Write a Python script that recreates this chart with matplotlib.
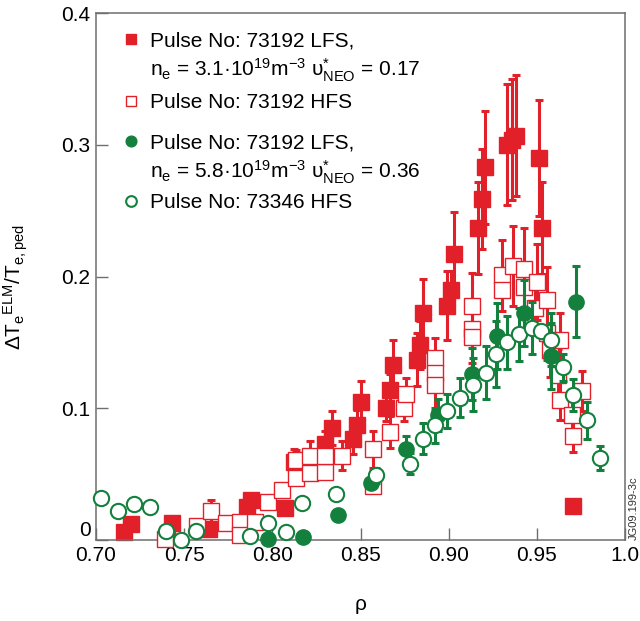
import numpy as np
import matplotlib.pyplot as plt
from matplotlib.lines import Line2D
from matplotlib.legend import Legend

plt.rcParams['font.family'] = ['Liberation Sans', 'DejaVu Sans']
plt.rcParams['mathtext.default'] = 'regular'

red = '#e2202a'
green = '#13803d'
grey = '#6e6e6e'

# Pulse 73192 LFS, low density (filled red squares)
lfs_lo_rho = [0.716, 0.720, 0.740, 0.743, 0.764, 0.7855, 0.788, 0.807, 0.812, 0.830,
              0.834, 0.846, 0.848, 0.850, 0.8644, 0.8667, 0.8686, 0.8818, 0.8837, 0.8856,
              0.8989, 0.9013, 0.903, 0.9168, 0.9187, 0.9206, 0.9333, 0.9357, 0.9382, 0.9513,
              0.9532, 0.9704]
lfs_lo_dte = [0.006, 0.012, 0.003, 0.013, 0.008, 0.025, 0.030, 0.024, 0.059, 0.073,
              0.085, 0.077, 0.087, 0.105, 0.100, 0.114, 0.133, 0.137, 0.148, 0.172,
              0.178, 0.190, 0.217, 0.237, 0.259, 0.283, 0.300, 0.304, 0.307, 0.290,
              0.237, 0.026]
lfs_lo_err = [0, 0, 0, 0, 0, 0, 0, 0, 0.010, 0.010,
              0.013, 0.012, 0.012, 0.016, 0.010, 0.012, 0.019, 0.020, 0.018, 0.026,
              0.026, 0.014, 0.032, 0.035, 0.038, 0.043, 0.046, 0.046, 0.046, 0.044,
              0.035, 0]

# Pulse 73192 HFS (open red squares)
hfs_rho = [0.7391, 0.7571, 0.7652, 0.7735, 0.7817, 0.7817, 0.7902, 0.7977, 0.8053, 0.8134,
           0.8134, 0.8213, 0.8213, 0.8299, 0.8299, 0.8393, 0.8572, 0.8572, 0.8667, 0.8749,
           0.8758, 0.8922, 0.8922, 0.8922, 0.9135, 0.9135, 0.9135, 0.930, 0.930, 0.9362,
           0.9429, 0.9429, 0.9499, 0.949, 0.9556, 0.9557, 0.9574, 0.9631, 0.962, 0.9631,
           0.9697, 0.9754, 0.9704]
hfs_dte = [0.001, 0.011, 0.022, 0.013, 0.014, 0.004, 0.014, 0.029, 0.038, 0.061,
           0.047, 0.064, 0.051, 0.052, 0.064, 0.064, 0.069, 0.041, 0.082, 0.100,
           0.111, 0.138, 0.127, 0.118, 0.178, 0.160, 0.154, 0.201, 0.190, 0.208,
           0.206, 0.192, 0.196, 0.176, 0.182, 0.157, 0.144, 0.152, 0.125, 0.106,
           0.095, 0.113, 0.079]
hfs_err = [0, 0, 0.008, 0, 0, 0, 0, 0, 0, 0.007,
           0, 0.011, 0, 0, 0, 0.011, 0.014, 0, 0.012, 0.010,
           0.012, 0.015, 0, 0.020, 0.025, 0, 0.020, 0.027, 0, 0.030,
           0.031, 0, 0.029, 0.020, 0.025, 0.020, 0.020, 0.020, 0.020, 0.015,
           0.015, 0.015, 0.012]

# Pulse 73192 LFS, high density (filled green circles)
lfs_hi_rho = [0.7977, 0.8176, 0.837, 0.856, 0.8758, 0.8941, 0.913, 0.9272, 0.9429, 0.9578, 0.9722]
lfs_hi_dte = [0.0005, 0.002, 0.019, 0.043, 0.069, 0.095, 0.126, 0.155, 0.172, 0.140, 0.181]
lfs_hi_err = [0, 0, 0, 0, 0.010, 0.012, 0.020, 0.025, 0.025, 0.025, 0.027]

# Pulse 73346 HFS (open green circles)
hfs2_rho = [0.703, 0.7127, 0.7217, 0.7306, 0.7395, 0.7482, 0.7565, 0.7873, 0.7977, 0.8075,
            0.817, 0.836, 0.859, 0.878, 0.8852, 0.8922, 0.8991, 0.9063, 0.9139, 0.9214,
            0.9267, 0.9331, 0.940, 0.947, 0.9521, 0.9578, 0.965, 0.9707, 0.9783, 0.9859]
hfs2_dte = [0.032, 0.022, 0.027, 0.025, 0.007, 0.000, 0.007, 0.003, 0.013, 0.006,
            0.028, 0.035, 0.049, 0.058, 0.077, 0.087, 0.098, 0.108, 0.118, 0.127,
            0.141, 0.150, 0.156, 0.161, 0.159, 0.152, 0.131, 0.110, 0.091, 0.062]
hfs2_err = [0, 0, 0, 0, 0, 0, 0, 0, 0, 0,
            0, 0, 0.006, 0.008, 0.012, 0.013, 0.013, 0.015, 0.020, 0.020,
            0.025, 0.020, 0.020, 0.020, 0, 0.020, 0.010, 0.012, 0.014, 0.009]

# legend text, one list per entry (second line where there is one)
leg_lo = ['Pulse No: 73192 LFS,', 'n$_e$ = 3.1·10$^{19}$m$^{-3}$ υ$^{*}_{NEO}$ = 0.17']
leg_hfs = ['Pulse No: 73192 HFS']
leg_hi = ['Pulse No: 73192 LFS,', 'n$_e$ = 5.8·10$^{19}$m$^{-3}$ υ$^{*}_{NEO}$ = 0.36']
leg_hfs2 = ['Pulse No: 73346 HFS']

fig = plt.figure(figsize=(6.4, 6.21), dpi=100)
ax = fig.add_axes([0.15, 0.1304, 0.8266, 0.8486])


def draw(rho, dte, err, z, color, marker, face, mew):
    rho = np.array(rho)
    dte = np.array(dte)
    err = np.array(err)
    m = err > 0
    ax.errorbar(rho[m], dte[m], yerr=err[m], fmt='none', ecolor=color, elinewidth=2.2,
                capsize=3, capthick=2.2, zorder=z)
    h, = ax.plot(rho, dte, linestyle='none', marker=marker, ms=11, mfc=face, mec=color,
                 mew=mew, zorder=z + 0.5, clip_on=False)
    return h


h1 = draw(lfs_lo_rho, lfs_lo_dte, lfs_lo_err, 2, red, 's', red, 1)
h2 = draw(hfs_rho, hfs_dte, hfs_err, 3, red, 's', 'white', 1)
h3 = draw(lfs_hi_rho, lfs_hi_dte, lfs_hi_err, 4, green, 'o', green, 1)
h4 = draw(hfs2_rho, hfs2_dte, hfs2_err, 5, green, 'o', 'white', 1.5)

# one small legend per entry so the gaps can follow the reference
blank = Line2D([], [], linestyle='none')
for h, txt, ytop in [(h1, leg_lo, 0.973), (h2, leg_hfs, 0.8554),
                     (h3, leg_hi, 0.7795), (h4, leg_hfs2, 0.6656)]:
    handles = [h] + [blank] * (len(txt) - 1)
    lg = Legend(ax, handles, txt, loc='upper left', bbox_to_anchor=(0.043, ytop),
                frameon=False, fontsize=15, markerscale=0.7, handlelength=0.8,
                handletextpad=0.5, labelspacing=0.3, borderaxespad=0, borderpad=0.2)
    ax.add_artist(lg)

ax.set_xlim(0.70, 1.0)
ax.set_ylim(0, 0.4)
ax.set_xticks([0.70, 0.75, 0.80, 0.85, 0.90, 0.95, 1.0])
ax.set_xticklabels(['0.70', '0.75', '0.80', '0.85', '0.90', '0.95', '1.0'])
ax.set_yticks([0, 0.1, 0.2, 0.3, 0.4])
ax.set_yticklabels(['0', '0.1', '0.2', '0.3', '0.4'])
ax.get_yticklabels()[0].set_va('bottom')
ax.tick_params(direction='in', length=8.5, width=1, color=grey, labelsize=15, pad=4)
for s in ax.spines.values():
    s.set_color(grey)
    s.set_linewidth(1.1)

ax.set_xlabel('ρ', fontsize=15)
ax.xaxis.set_label_coords(0.5, -0.105)
ax.set_ylabel('ΔT$_e$$^{ELM}$/T$_{e,ped}$', fontsize=15)
ax.yaxis.set_label_coords(-0.125, 0.48)

ax.text(1.008, 0.0, 'JG09.199-3c', rotation=90, fontsize=8, color='#333333',
        transform=ax.transAxes, ha='left', va='bottom')

fig.savefig('out.png', dpi=100)
